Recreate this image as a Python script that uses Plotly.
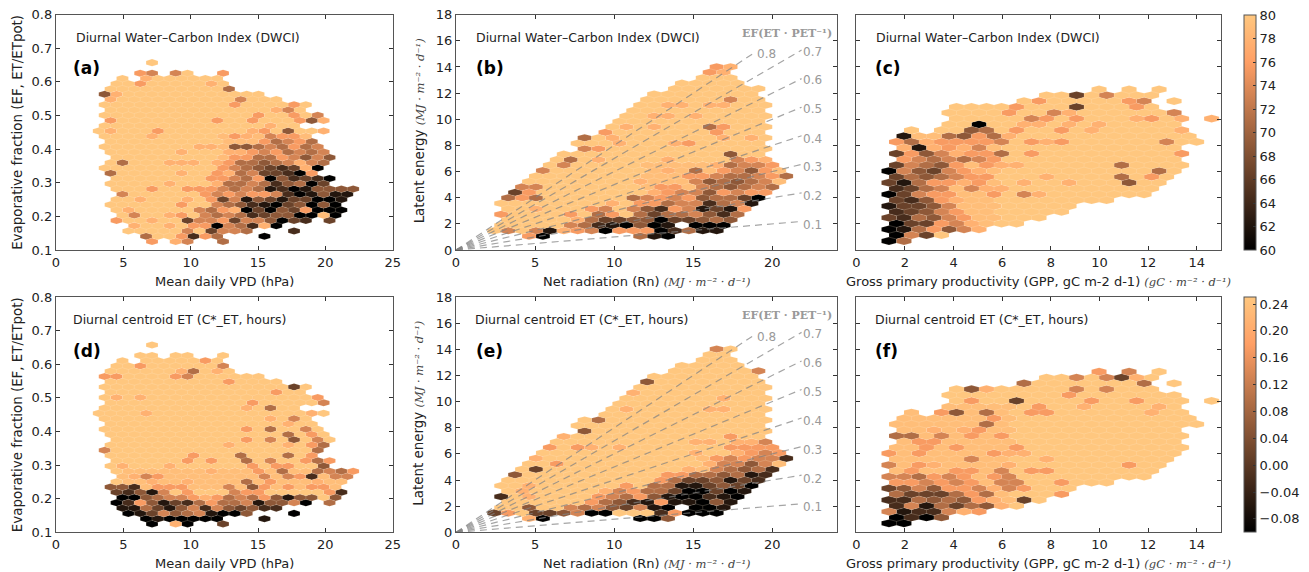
import plotly.graph_objects as go

W, H = 1309, 572

# Hexagon outlines: row -> (first column, last column) runs
OUT_VPD = {0:[(0,0)],2:[(-2,0),(4,6),(12,12)],3:[(-5,-5),(-1,11)],4:[(-6,12)],5:[(-7,13)],6:[(-8,18)],7:[(-7,21)],
 8:[(-8,26)],9:[(-7,25)],10:[(-8,28)],11:[(-7,29)],12:[(-8,24)],13:[(-9,29)],14:[(-8,26)],15:[(-7,27)],16:[(-8,28)],
 17:[(-7,29)],18:[(-6,30)],19:[(-7,29)],20:[(-8,28)],21:[(-7,27)],22:[(-6,30)],23:[(-7,29)],24:[(-6,34)],25:[(-5,33)],
 26:[(-6,32)],27:[(-7,31)],28:[(-6,32)],29:[(-5,31)],30:[(-6,26),(30,30)],31:[(-3,21)],32:[(-4,16),(24,24)],
 33:[(-1,11),(19,19)],34:[(0,0),(4,6),(12,12)]}
OUT_RN = {0:[(0,2)],1:[(-1,1)],2:[(-2,2)],3:[(-5,3)],4:[(-6,6)],5:[(-9,5)],6:[(-10,6)],7:[(-11,7)],8:[(-12,6)],9:[(-13,7)],
 10:[(-14,6)],11:[(-15,7)],12:[(-16,6)],13:[(-19,7)],14:[(-20,6)],15:[(-19,7)],16:[(-22,6)],17:[(-23,7)],18:[(-24,8)],
 19:[(-25,9)],20:[(-26,10)],21:[(-27,9)],22:[(-28,8)],23:[(-29,7)],24:[(-30,6)],25:[(-31,5)],26:[(-30,4)],27:[(-31,3)],
 28:[(-30,2)],29:[(-31,-7),(-3,1)],30:[(-32,0)],31:[(-27,-25),(-11,-7)]}
OUT_GPP = {0:[(0,2)],1:[(1,7)],2:[(0,12)],3:[(1,17)],4:[(0,20)],5:[(1,23)],6:[(0,24)],7:[(1,29)],8:[(0,34)],9:[(1,35)],
 10:[(0,36)],11:[(1,37)],12:[(0,38)],13:[(1,39)],14:[(2,38)],15:[(1,39)],16:[(2,38)],17:[(1,41)],18:[(2,40)],
 19:[(3,3),(7,39)],20:[(8,38)],21:[(9,39),(43,43)],22:[(8,38)],23:[(9,35)],24:[(18,34),(38,38)],25:[(21,35)],
 26:[(28,28),(32,32),(36,36)]}

# Areas read as slightly deeper than the palest tone: (first row, last row, first column, last column, level)
TINT_A = (14, 33, 12, 34, 8.5)
TINT_B = (18, 30, -10, 10, 8.6)
TINT_C = (2, 18, 0, 14, 8.6)
TINT_D = (24, 27, -5, 34, 8.6)
TINT_E = (20, 24, -2, 10, 8.6)
TINT_F = (2, 20, 0, 16, 8.6)

# Colour level of the cells that are not the palest, "column:level" (0 black .. 9 palest)
LV_A = {0:"0:9",2:"-2:7 0:6 4:6 12:7",3:"-1:8",4:"-2:7 10:8",5:"13:5",6:"-8:4 -6:8",7:"-7:8 15:6",8:"14:7 24:7",
 9:"21:8 23:6",10:"18:7 24:7 28:6",11:"-7:7 11:7 17:7 25:7 27:4 29:8",12:"20:8",13:"-7:8 1:7 17:8 19:7 23:4 29:8",
 14:"0:8 14:7 16:8 20:6 22:7 24:7",15:"19:7 21:5 23:6 25:7 27:5",16:"8:8 10:8 14:4 16:4 18:5 20:6 22:5 24:7 26:5 28:6",
 17:"5:8 13:8 15:8 17:7 19:6 21:7 23:5 25:6 27:5 29:6",18:"14:7 16:7 18:5 20:5 22:7 24:6 26:4 28:6 30:4",
 19:"-5:5 3:8 5:8 7:8 11:8 13:7 15:5 17:5 19:4 21:5 23:6 25:8 27:6 29:5",20:"12:7 14:6 16:5 18:4 20:3 22:2 24:3 26:8 28:0",
 21:"-7:5 5:8 11:7 13:8 15:5 17:6 19:3 21:3 23:2 25:0 27:7",22:"10:7 12:7 14:6 16:5 18:7 20:0 22:4 24:2 26:3 28:2 30:0",
 23:"3:8 11:8 13:5 15:5 17:6 19:5 21:2 23:4 25:5 27:0 29:3",
 24:"0:7 6:7 8:7 10:7 12:6 14:5 16:6 18:5 20:1 22:2 24:0 26:1 28:4 30:4 32:4 34:4",
 25:"-5:6 9:7 11:6 13:7 15:6 17:7 19:7 21:6 23:2 25:0 27:1 29:4 31:1 33:1",
 26:"-2:8 6:8 10:7 12:3 14:6 16:1 18:4 20:3 22:1 24:3 26:3 28:0 30:0 32:1",
 27:"5:7 11:6 13:5 15:4 17:2 19:1 21:0 23:3 25:4 27:0 29:4 31:0",
 28:"-4:8 8:6 10:5 12:7 14:8 16:0 18:3 20:0 22:4 24:3 26:7 28:0 30:0 32:0",
 29:"-3:6 3:8 5:7 9:6 11:5 13:6 15:5 17:2 19:3 21:4 23:4 25:0 27:0 31:0",
 30:"-6:7 0:8 6:3 8:6 10:6 12:7 14:3 16:6 18:6 20:4 22:0 24:3 26:2 30:3",
 31:"-3:8 3:8 7:7 9:7 11:0 13:6 15:5 17:2 19:8 21:0",32:"6:6 10:3 12:6 14:6 16:5 24:2",33:"-1:5 5:7 7:2 9:7 11:5 19:0",
 34:"0:7 4:8 6:6 12:5"}
LV_D = {3:"9:7",4:"-2:7 12:6",5:"5:8 7:5 11:8",6:"-8:7 -6:7 4:7 6:6",7:"13:7",8:"24:3",9:"21:7",10:"-6:8 -2:8 28:7",
 11:"17:7 29:6",12:"16:8 20:5",13:"-1:8 27:8",14:"20:8 24:6",15:"23:8 26:7",16:"16:7 20:5 26:6",17:"23:5 27:7",
 18:"16:7 20:6 24:4 28:6",19:"13:8 23:8 27:7 29:5",20:"-8:6 28:5",21:"7:7 15:5 23:5 27:7",
 22:"6:7 10:7 16:5 20:6 26:7 28:5 30:7",23:"-5:8 3:8 17:7 21:7 23:7 29:4",24:"10:8 18:7 22:5 28:5 30:6 32:5 34:7",
 25:"-3:8 -1:6 1:7 19:6 23:6 25:7 27:2 31:6 33:6",26:"0:8 6:8 16:5 20:7 28:8",
 27:"-7:4 -5:4 -3:2 1:7 3:7 5:7 13:6 17:4 19:7 23:7 27:7 29:7",28:"-6:3 -4:2 -2:4 0:1 2:6 6:7 14:6 16:7 18:7 30:7 32:2",
 29:"-5:0 -3:0 -1:4 1:5 3:6 5:6 7:7 9:8 11:7 13:5 15:6 17:5 19:7 21:4 23:1 25:4 27:4 31:4",
 30:"-6:0 -4:2 -2:7 0:4 2:1 4:3 6:2 8:5 10:7 12:5 14:5 16:6 18:1 20:4 22:4 24:6 26:0 30:5",
 31:"-5:1 -3:1 -1:5 1:3 3:1 5:4 7:6 9:2 11:6 13:4 15:3 17:4 19:2 21:2",
 32:"-4:0 -2:1 0:3 2:6 4:4 6:5 8:6 10:1 12:0 14:0 16:4 24:0",33:"-1:0 1:1 3:0 5:0 7:0 9:0 11:0 19:1",34:"0:0 4:8 6:0 12:3"}
LV_B = {0:"0:7 2:8",1:"-1:7 1:8",6:"2:6",7:"-7:8 -5:8 -1:8 1:8",9:"-9:8 -7:8 -3:8",11:"-13:8 -9:8 -1:5 1:7",12:"-16:7 0:7",
 13:"-19:5 -15:8 1:8 5:8",14:"-14:8 -6:8 -4:7",15:"-19:6 -17:7",16:"2:4",17:"-21:5 -17:8 -7:8 3:6 5:7 7:8",
 18:"-22:6 0:8 2:5 4:6 6:6 8:7",19:"-25:6 -7:8 -3:5 1:7 3:6 5:4 7:7",20:"-4:7 -2:7 0:6 2:5 4:5 6:6 8:7 10:5",
 21:"-11:8 -3:6 -1:4 1:5 3:4 5:5 7:6",22:"-28:6 -26:6 -8:7 -6:7 -2:6 0:5 2:4 4:5 6:6 8:5",
 23:"-29:3 -27:7 -9:8 -7:7 -5:6 -3:6 -1:4 1:7 3:6 5:7 7:7",
 24:"-30:5 -28:7 -26:5 -12:5 -10:6 -8:7 -6:6 -4:7 -2:4 0:5 2:5 4:3 6:0",
 25:"-15:8 -11:7 -9:7 -7:5 -5:6 -3:6 -1:2 1:5 3:6 5:1",26:"-26:8 -18:7 -16:6 -12:6 -10:4 -8:2 -6:7 -4:6 -2:1 0:3 2:1 4:7",
 27:"-31:7 -21:7 -17:5 -15:7 -11:5 -9:3 -7:5 -5:5 -3:6 -1:4 1:2 3:5",
 28:"-20:8 -18:5 -16:3 -14:3 -12:4 -10:4 -8:0 -6:3 -4:3 -2:4 0:5 2:4",
 29:"-21:6 -19:5 -17:2 -15:1 -13:0 -11:4 -9:0 -7:1 -3:0 -1:0 1:0",
 30:"-30:6 -26:6 -24:1 -22:8 -20:7 -18:6 -16:0 -14:7 -12:7 -10:7 -8:0 -6:2 -4:5 -2:1 0:1",
 31:"-27:7 -25:0 -11:5 -9:1 -7:0"}
LV_E = {0:"0:6",4:"6:6",6:"-10:4",8:"-12:8",9:"1:8",11:"-13:8 -1:8 1:8",13:"-17:5",15:"-19:4",16:"-22:8 2:7",
 17:"-3:8 -1:8 3:8 5:8 7:6",18:"-24:7 -20:7 -18:8 -14:8 2:7 4:7 6:7 8:7",19:"-3:8 3:8 5:7 7:6 9:7",
 20:"-26:8 0:7 2:6 4:7 6:6 8:6 10:2",21:"-23:7 -1:8 1:6 3:6 5:4 7:6",22:"-26:3 -4:8 0:6 2:5 4:4 6:5 8:2",
 23:"-29:4 -7:7 -5:7 -3:5 -1:5 1:4 3:5 5:1 7:2",24:"-8:7 -6:5 -4:3 -2:3 0:4 2:1 4:3 6:2",
 25:"-27:8 -13:7 -9:5 -7:5 -5:1 -3:1 -1:3 1:4 3:3 5:0",26:"-28:8 -16:8 -14:6 -12:7 -10:5 -8:5 -6:3 -4:0 -2:0 0:3 2:0 4:1",
 27:"-31:2 -27:8 -17:7 -15:6 -13:5 -11:7 -9:4 -7:1 -5:0 -3:0 -1:2 1:1 3:0",
 28:"-18:7 -16:5 -14:4 -12:2 -10:1 -8:7 -6:1 -4:1 -2:0 0:4 2:1",
 29:"-27:4 -21:6 -19:5 -17:6 -15:4 -13:3 -11:6 -9:1 -7:0 -3:0 -1:0 1:1",
 30:"-32:3 -30:7 -26:3 -24:3 -22:4 -20:6 -18:0 -16:0 -8:2 -6:7 -4:0 -2:0 0:0",31:"-27:8 -25:0 -11:0 -9:0 -7:4"}
LV_C = {0:"0:0 2:5",1:"1:0 3:6 5:3",2:"0:0 2:1 4:5 6:7 8:4 10:6 12:8",3:"1:0 3:3 5:3 7:7 9:6 11:8",4:"0:3 2:2 4:5 6:4 8:6 10:7",
 5:"1:2 3:3 5:4 7:6 9:7",6:"0:1 2:3 4:3 6:4 8:6",7:"1:3 3:2 5:4 7:7 9:8",8:"0:0 2:3 4:6 6:7 8:7 14:7 18:6 20:8",
 9:"1:2 3:3 5:5 7:6 11:6 13:8 15:8",10:"0:3 2:1 4:5 6:7 8:7 10:8 12:7 18:8 24:8 32:4",
 11:"1:3 3:5 5:4 7:5 9:6 11:7 13:7 21:8 31:5 35:7",12:"0:0 2:6 4:4 6:3 8:6 10:7 12:8 36:5",
 13:"1:3 3:6 5:5 7:4 9:7 13:7 15:8 17:8 31:5",14:"2:7 4:6 6:5 8:6 10:5 12:6 14:7",
 15:"1:3 3:7 5:4 7:6 9:8 11:7 13:7 15:5 19:7 39:7",16:"2:8 4:1 6:8 8:7 10:8 12:6",
 17:"1:7 3:5 5:8 7:7 9:7 11:7 13:7 15:6 19:7 21:8 23:7 37:6",18:"2:1 8:5 10:4 12:7 14:5 16:8",
 19:"11:4 13:5 17:7 23:7 27:8 39:8",20:"12:0 18:8 20:8 24:8 28:8",21:"19:6 21:7 25:7 33:8 35:7 39:8 43:8",
 22:"16:7 22:6 24:8 38:6",23:"17:7 25:3 33:7",24:"20:7 32:7 34:6",25:"25:3 29:6"}
LV_F = {0:"0:0 2:0",1:"1:0 3:2 5:0 7:4",2:"0:6 2:1 4:2 6:2 8:6 10:8 12:7",3:"1:2 3:6 5:1 7:5 9:3 11:5 13:4 15:8",
 4:"0:2 2:2 4:5 6:4 8:5 10:4 12:7 14:8 18:3",5:"1:5 3:3 5:3 7:3 9:5 11:7 13:5 23:7",
 6:"0:3 2:4 4:6 6:4 8:7 10:7 12:6 14:8 16:6 18:7",7:"1:7 3:7 5:6 7:7 9:6 11:7 15:6 17:6 23:7",
 8:"0:6 2:6 4:5 6:7 8:6 10:7 14:7 16:6",9:"3:7 9:7 11:7 15:6 19:7 21:7",10:"0:6 4:7 6:8 16:8 32:7",11:"11:6 21:8",
 12:"0:7 4:7 14:7 16:8 18:8",13:"5:7 9:7 17:7",14:"4:7 6:7",15:"1:5 3:5 7:6 11:7 15:7",16:"6:8 10:8 12:7",17:"13:5",
 18:"14:7",19:"7:7 9:4 13:5 19:7 21:7 35:8",20:"20:7 26:8 36:8",21:"11:7 17:3 27:7 33:7",22:"24:7",23:"11:4 13:8 25:6 29:6",
 24:"18:5 34:5",25:"25:6 29:6 31:3 33:8",26:"28:7 32:6"}

# Lattice of each group of panels in data units: origin and step per column / row
GRID_VPD = (7.13, 0.4393, 0.6574, -0.01566)
GRID_RN = (16.48, 0.4394, 14.01, -0.4178)
GRID_GPP = (1.344, 0.3086, 0.688, 0.4459)

EF_LEVELS = [0.1, 0.2, 0.3, 0.4, 0.5, 0.6, 0.7, 0.8]
EF_LINE_END = [21.85, 21.85, 21.85, 21.85, 21.85, 21.85, 21.85, 18.8]
EF_LABEL_X = [22.55, 22.55, 22.55, 22.55, 22.55, 22.55, 22.55, 19.6]
EF_LABEL_Y = [1.91, 4.1, 6.32, 8.51, 10.75, 12.97, 15.16, 14.96]
CB1_TICKS = [60, 62, 64, 66, 68, 70, 72, 74, 76, 78, 80]
CB2_TICKS = [-0.08, -0.04, 0.0, 0.04, 0.08, 0.12, 0.16, 0.20, 0.24]
TITLE1, TITLE2 = "Diurnal Water–Carbon Index (DWCI)", "Diurnal centroid ET (C*_ET, hours)"
UNIT = "<span style='font-family:DejaVu Serif;font-style:italic;font-size:11.5px;color:#444'>(%s)</span>"
RN_UNIT = UNIT % "MJ · m⁻² · d⁻¹"
GPP_UNIT = UNIT % "gC · m⁻² · d⁻¹"

TXT = "#222222"
FRAME = "#555555"
STOPS = [(0, (0, 0, 0)), (0.8, (255, 159, 101)), (1, (255, 199, 127))]
SCALE = [[s, "rgb(%d,%d,%d)" % c] for s, c in STOPS]


def level_color(t):
    for (a, ca), (b, cb) in zip(STOPS, STOPS[1:]):
        if t <= b:
            f = (t - a) / (b - a)
            return "rgb(%d,%d,%d)" % tuple(round(p + (q - p) * f) for p, q in zip(ca, cb))
    return SCALE[-1][1]


def cells(outline, tint, levels):
    out = {}
    r0, r1, c0t, c1t, tl = tint
    for row, runs in outline.items():
        for c0, c1 in runs:
            for c in range(c0, c1 + 1, 2):
                out[(row, c)] = tl if (r0 <= row <= r1 and c0t <= c <= c1t) else 9
    for row, text in levels.items():
        for item in text.split():
            c, lv = item.rsplit(":", 1)
            if (int(c) - row) % 2 == 0:
                out[(row, int(c))] = int(lv)
    return out


fig = go.Figure()
PANELS = [
    (1, OUT_VPD, TINT_A, LV_A, GRID_VPD, 56, 392.7, 14.7, 250, [0, 25], [0.1, 0.8], 5, 0.1, True, "(a)", TITLE1, 60, 80),
    (2, OUT_RN, TINT_B, LV_B, GRID_RN, 456, 836.7, 14.7, 250, [0, 24.07], [0, 18], 5, 2, True, "(b)", TITLE1, 60, 80),
    (3, OUT_GPP, TINT_C, LV_C, GRID_GPP, 856.3, 1221, 14.7, 250, [0, 15], [0, 18], 2, 2, False, "(c)", TITLE1, 60, 80),
    (4, OUT_VPD, TINT_D, LV_D, GRID_VPD, 56, 392.7, 297, 532.3, [0, 25], [0.1, 0.8], 5, 0.1, True, "(d)", TITLE2, -0.1, 0.25),
    (5, OUT_RN, TINT_E, LV_E, GRID_RN, 456, 836.7, 297, 532.3, [0, 24.07], [0, 18], 5, 2, True, "(e)", TITLE2, -0.1, 0.25),
    (6, OUT_GPP, TINT_F, LV_F, GRID_GPP, 856.3, 1221, 297, 532.3, [0, 15], [0, 18], 2, 2, False, "(f)", TITLE2, -0.1, 0.25),
]
XTITLES = {1: "Mean daily VPD (hPa)", 2: "Net radiation (Rn) " + RN_UNIT,
           3: "Gross primary productivity (GPP, gC m-2 d-1) " + GPP_UNIT}
YTITLES = {1: "Evaporative fraction (EF, ET/ETpot)", 2: "Latent energy " + RN_UNIT}
XT_CENTER = {1: 224, 2: 646.7, 3: 1038.7}
YT_X = {1: 17.5, 2: 419}
TEXT_X = {1: (74, 71), 2: (474, 474), 3: (874, 873), 4: (71, 71), 5: (473, 474), 6: (873, 873)}

layout = {}
ann = []


def px(x):
    return x / W


def py(y):
    return 1 - y / H


for n, outline, tint, lv, grid, l, r, t, b, xr, yr, dx, dy, ylabels, tag, title, cmin, cmax in PANELS:
    xa, ya = ("x%d" % n, "y%d" % n)
    x0, sx, y0, sy = grid
    data = cells(outline, tint, lv)
    cx, cy, cv = [], [], []
    groups = {}
    for (row, c), level in data.items():
        x, y = x0 + sx * c, y0 + sy * row
        cx.append(x); cy.append(y); cv.append(cmin + (cmax - cmin) * level / 9)
        g = groups.setdefault(level, ([], []))
        ay = abs(sy)
        g[0].extend([x, x + sx, x + sx, x, x - sx, x - sx, x, None])
        g[1].extend([y + ay * 2 / 3, y + ay / 3, y - ay / 3, y - ay * 2 / 3, y - ay / 3, y + ay / 3, y + ay * 2 / 3, None])
    show_cb = n in (3, 6)
    marker = dict(size=1, color=cv, cmin=cmin, cmax=cmax, colorscale=SCALE, showscale=show_cb)
    if show_cb:
        marker["colorbar"] = dict(
            x=1244 / W, xanchor="left", xpad=0, ypad=0, y=py(b), yanchor="bottom", len=(b - t) / H, lenmode="fraction",
            thickness=12, thicknessmode="pixels", outlinecolor=FRAME, outlinewidth=1, ticks="inside", ticklen=3,
            tickcolor="#333", tickmode="array", tickvals=CB1_TICKS if n == 3 else CB2_TICKS,
            ticktext=None if n == 3 else ["−0.08", "−0.04", "0.00", "0.04", "0.08", "0.12", "0.16", "0.20", "0.24"],
            tickfont=dict(family="DejaVu Sans", size=13, color=TXT))
    fig.add_trace(go.Scatter(x=cx, y=cy, mode="markers", marker=marker, xaxis=xa, yaxis=ya, showlegend=False, hoverinfo="x+y"))
    for level in sorted(groups):
        gx, gy = groups[level]
        col = level_color(level / 9)
        fig.add_trace(go.Scatter(x=gx, y=gy, mode="lines", fill="toself", fillcolor=col,
                                 line=dict(color="rgba(255,235,205,0.22)", width=0.5), xaxis=xa, yaxis=ya,
                                 showlegend=False, hoverinfo="skip"))
    if n in (2, 5):
        for ef, xe, lx, ly in zip(EF_LEVELS, EF_LINE_END, EF_LABEL_X, EF_LABEL_Y):
            fig.add_trace(go.Scatter(x=[0, xe], y=[0, xe * ef], mode="lines", showlegend=False, hoverinfo="skip",
                                     line=dict(color="rgba(130,130,130,0.72)", width=1.2, dash="7px,5px"), xaxis=xa, yaxis=ya))
            ann.append(dict(x=lx, y=ly, xref=xa, yref=ya, text="%.1f" % ef, showarrow=False,
                            font=dict(family="DejaVu Sans", size=12, color="#999999")))
        ann.append(dict(x=20.9, y=16.6, xref=xa, yref=ya, showarrow=False,
                        text="<b>EF(ET · PET⁻¹)</b>", font=dict(family="DejaVu Serif", size=11, color="#999999")))
    common = dict(showline=True, linecolor=FRAME, linewidth=1.3, mirror="allticks", ticks="inside", ticklen=4, tickwidth=1,
                  tickcolor="#333", showgrid=False, zeroline=False, tickfont=dict(family="DejaVu Sans", size=13, color=TXT))
    layout["xaxis%d" % n] = dict(common, domain=[px(l), px(r)], range=xr, dtick=dx, tick0=0, anchor=ya)
    layout["yaxis%d" % n] = dict(common, domain=[py(b), py(t)], range=yr, dtick=dy, tick0=0, anchor=xa, showticklabels=ylabels)
    tx, ltx = TEXT_X[n]
    ann.append(dict(x=px(tx), y=py(t + 22.5), xref="paper", yref="paper", xanchor="left", yanchor="middle", text=title,
                    showarrow=False, font=dict(family="DejaVu Sans", size=12.5, color=TXT)))
    ann.append(dict(x=px(ltx), y=py(t + 53.5), xref="paper", yref="paper", xanchor="left", yanchor="middle", text="<b>%s</b>" % tag,
                    showarrow=False, font=dict(family="DejaVu Sans", size=17, color="black")))
    col = (n - 1) % 3 + 1
    ann.append(dict(x=px(XT_CENTER[col]), y=py(b + 31), xref="paper", yref="paper", xanchor="center", yanchor="middle",
                    text=XTITLES[col], showarrow=False, font=dict(family="DejaVu Sans", size=13, color=TXT)))
    if col in YTITLES:
        ann.append(dict(x=px(YT_X[col]), y=py((t + b) / 2 + (0 if col == 1 else -1)), xref="paper", yref="paper", xanchor="center",
                        yanchor="middle", text=YTITLES[col], textangle=-90, showarrow=False,
                        font=dict(family="DejaVu Sans", size=13.4, color=TXT)))

fig.update_layout(width=W, height=H, margin=dict(l=0, r=0, t=0, b=0, autoexpand=False), paper_bgcolor="white", plot_bgcolor="white",
                  annotations=ann, showlegend=False, **layout)
fig.write_html("out.html", config={"displayModeBar": False},
               post_script="document.body.style.margin='0';document.body.style.overflow='hidden';")
